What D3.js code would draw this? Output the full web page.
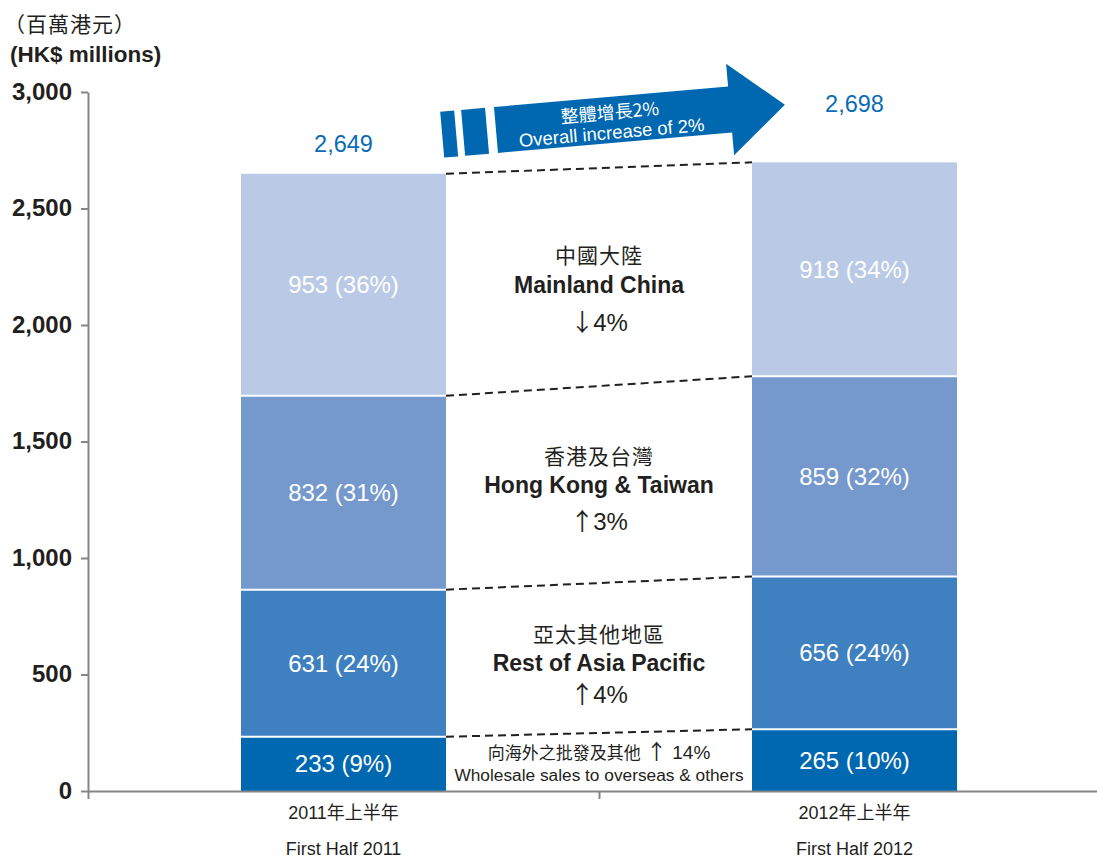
<!DOCTYPE html>
<html>
<head>
<meta charset="utf-8">
<script src="https://cdn.jsdelivr.net/npm/d3@7"></script>
<style>
  body { margin: 0; background: #fff; }
  svg text { font-family: "Liberation Sans", Arial, "Noto Sans CJK TC", sans-serif; fill: #231f20; }
  .cjk { font-family: "Noto Sans CJK TC", "Liberation Sans", sans-serif; }
  .arr { font-family: "Noto Sans CJK TC", "DejaVu Sans", sans-serif; }
</style>
</head>
<body>
<div id="chart"></div>
<script>
// data
var periods = ["2011年上半年", "2012年上半年"];
var periodsEn = ["First Half 2011", "First Half 2012"];
var segments = ["Wholesale", "Rest of Asia Pacific", "Hong Kong & Taiwan", "Mainland China"];
var values2011 = [233, 631, 832, 953];
var values2012 = [265, 656, 859, 918];
var pct2011 = ["9%", "24%", "31%", "36%"];
var pct2012 = ["10%", "24%", "32%", "34%"];
var totals = [2649, 2698];
var yTicks = [0, 500, 1000, 1500, 2000, 2500, 3000];

var colors = ["#0067b1", "#3f80c1", "#7598cd", "#bacae6"];
var totalOffset = [22, 50];

var width = 1097, height = 859;

var svg = d3.select("#chart").append("svg")
    .attr("width", width)
    .attr("height", height);

var y = d3.scaleLinear().domain([0, 3000]).range([791, 92]);
var x = d3.scalePoint().domain(periods).range([88, 1110]).padding(0.5);
var barW = 205;

// y axis
var yAxis = svg.append("g")
    .attr("transform", "translate(88,0)")
    .call(d3.axisLeft(y).tickValues(yTicks).tickSize(7).tickSizeOuter(0).tickPadding(9)
      .tickFormat(d3.format(",")));
yAxis.select(".domain").attr("stroke", "#85858a").attr("stroke-width", 2);
yAxis.selectAll(".tick line").attr("stroke", "#85858a").attr("stroke-width", 2);
yAxis.selectAll(".tick text")
    .attr("font-size", 24).attr("font-weight", "bold")
    .attr("fill", "#231f20")
    .style("font-family", "Liberation Sans, Arial, sans-serif")
    .attr("dy", "0.3em");

// titles
svg.append("text").attr("class", "cjk").attr("x", 4).attr("y", 32)
    .attr("font-size", 21).attr("letter-spacing", 1).text("（百萬港元）");
svg.append("text").attr("x", 10).attr("y", 62)
    .attr("font-size", 22.5).attr("font-weight", "bold").text("(HK$ millions)");

// bars
var data = [values2011, values2012];
var pcts = [pct2011, pct2012];

data.forEach(function(vals, i) {
  var cx = x(periods[i]);
  var cum = 0;
  var g = svg.append("g");
  vals.forEach(function(v, j) {
    var y0 = cum, y1 = cum + v;
    cum = y1;
    g.append("rect")
      .attr("x", cx - barW / 2)
      .attr("y", y(y1))
      .attr("width", barW)
      .attr("height", y(y0) - y(y1))
      .attr("fill", colors[j]);
    if (j > 0) {
      g.append("line")
        .attr("x1", cx - barW / 2).attr("x2", cx + barW / 2)
        .attr("y1", y(y0)).attr("y2", y(y0))
        .attr("stroke", "#fff").attr("stroke-width", 2);
    }
    g.append("text")
      .attr("x", cx)
      .attr("y", (y(y0) + y(y1)) / 2)
      .attr("dy", "0.36em")
      .attr("text-anchor", "middle")
      .attr("font-size", 24)
      .style("fill", "#fff")
      .text(d3.format(",")(v) + " (" + pcts[i][j] + ")");
  });
  svg.append("text")
    .attr("x", cx)
    .attr("y", y(totals[i]) - totalOffset[i])
    .attr("text-anchor", "middle")
    .attr("font-size", 23.5)
    .style("fill", "#0a6cb4")
    .text(d3.format(",")(totals[i]));
});

// dashed connectors
var cumA = d3.cumsum(values2011), cumB = d3.cumsum(values2012);
var xA = x(periods[0]) + barW / 2, xB = x(periods[1]) - barW / 2;
cumA.forEach(function(v, j) {
  svg.append("line")
    .attr("x1", xA).attr("y1", y(v))
    .attr("x2", xB).attr("y2", y(cumB[j]))
    .attr("stroke", "#231f20")
    .attr("stroke-width", 2)
    .attr("stroke-dasharray", "8,5");
});

// x axis
var xb = d3.scaleLinear().domain([0, 2]).range([88, 1110]);
var xAxis = svg.append("g")
    .attr("transform", "translate(0,791)")
    .call(d3.axisBottom(xb).tickValues([0, 1]).tickSize(8).tickSizeOuter(0).tickFormat(""));
xAxis.select(".domain").attr("stroke", "#85858a").attr("stroke-width", 2);
xAxis.selectAll(".tick line").attr("stroke", "#85858a").attr("stroke-width", 2);

periods.forEach(function(p, i) {
  svg.append("text")
    .attr("x", x(p)).attr("y", 819)
    .attr("text-anchor", "middle").attr("font-size", 18).text(p);
  svg.append("text")
    .attr("x", x(p)).attr("y", 855)
    .attr("text-anchor", "middle").attr("font-size", 18).text(periodsEn[i]);
});

// middle annotations
var midX = (xA + xB) / 2;
var notes = [
  { zh: "中國大陸", en: "Mainland China", ar: "↓", ch: "4%", y: [263, 293, 331] },
  { zh: "香港及台灣", en: "Hong Kong & Taiwan", ar: "↑", ch: "3%", y: [464, 493, 530] },
  { zh: "亞太其他地區", en: "Rest of Asia Pacific", ar: "↑", ch: "4%", y: [642, 671, 703] }
];
notes.forEach(function(n) {
  svg.append("text").attr("class", "cjk").attr("x", midX).attr("y", n.y[0])
    .attr("text-anchor", "middle").attr("font-size", 21).attr("letter-spacing", 1).text(n.zh);
  svg.append("text").attr("x", midX).attr("y", n.y[1])
    .attr("text-anchor", "middle").attr("font-size", 23).attr("font-weight", "bold").text(n.en);
  svg.append("text").attr("x", midX).attr("y", n.y[2])
    .attr("text-anchor", "middle").attr("font-size", 24)
    .html('<tspan class="arr" font-size="24">' + n.ar + '</tspan><tspan dx="-1">' + n.ch + '</tspan>');
});
svg.append("text").attr("x", midX).attr("y", 759)
    .attr("text-anchor", "middle").attr("font-size", 19)
    .html('<tspan class="cjk" font-size="17">向海外之批發及其他</tspan> <tspan class="arr" font-size="21">↑</tspan> 14%');
svg.append("text").attr("x", midX).attr("y", 781)
    .attr("text-anchor", "middle").attr("font-size", 17.3)
    .text("Wholesale sales to overseas & others");

// overall increase arrow
var arrow = svg.append("g").attr("transform", "translate(496,130) rotate(-5)");
arrow.append("rect").attr("x", -54).attr("y", -23).attr("width", 14).attr("height", 46).attr("fill", "#0067b1");
arrow.append("rect").attr("x", -33).attr("y", -23).attr("width", 24).attr("height", 46).attr("fill", "#0067b1");
arrow.append("path")
    .attr("d", "M0,-23 L235,-23 L235,-46 L290,0 L235,46 L235,23 L0,23 Z")
    .attr("fill", "#0067b1");
arrow.append("text").attr("class", "cjk").attr("x", 115).attr("y", -1)
    .attr("text-anchor", "middle").attr("font-size", 18).style("fill", "#fff").text("整體增長2%");
arrow.append("text").attr("x", 115).attr("y", 19)
    .attr("text-anchor", "middle").attr("font-size", 18.5).style("fill", "#fff").text("Overall increase of 2%");
</script>
</body>
</html>
